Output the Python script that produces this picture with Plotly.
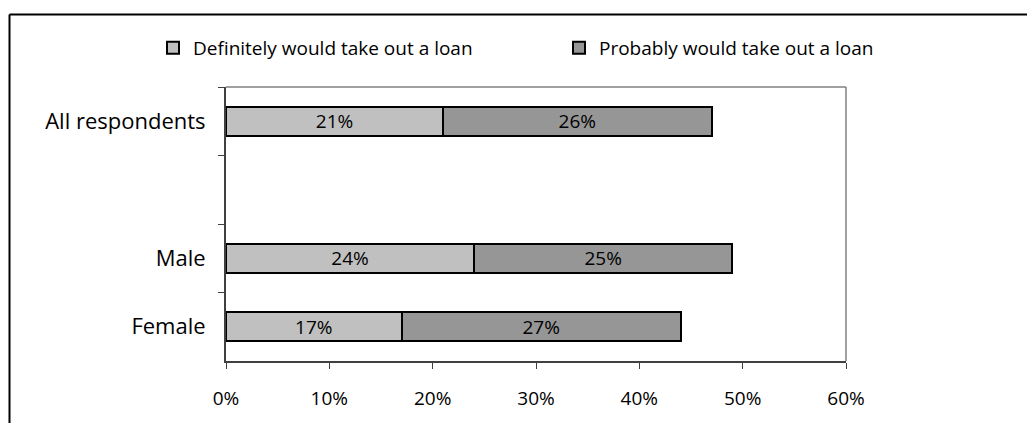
import plotly.graph_objects as go

# Survey groups (a blank spacer row separates the total from the gender split)
categories = ["All respondents", " ", "Male", "Female"]
definitely = [21, None, 24, 17]
probably = [26, None, 25, 27]
series_names = ["Definitely would take out a loan", "Probably would take out a loan"]
x_ticks = [0, 10, 20, 30, 40, 50, 60]

FONT = "Open Sans"
W, H = 1027, 423
L, R, T, B = 226, 846, 87, 361  # plot-area edges in pixels


def px_x(p):
    return (p - L) / (R - L)


def px_y(p):
    return (B - p) / (B - T)


def labels(vals):
    return [f"{v}%" if v is not None else "" for v in vals]


fig = go.Figure()
for name, vals, color in [
    (series_names[0], definitely, "#C0C0C0"),
    (series_names[1], probably, "#969696"),
]:
    fig.add_trace(go.Bar(
        y=categories, x=vals, name=name, orientation="h",
        marker=dict(color=color, line=dict(color="black", width=2)),
        text=labels(vals), textposition="inside", insidetextanchor="middle",
        textangle=0, textfont=dict(family=FONT, size=19, color="black"),
        constraintext="none", hoverinfo="skip",
    ))

fig.update_layout(
    width=W, height=H,
    margin=dict(l=L, r=W - R, t=T, b=H - B, autoexpand=False),
    barmode="stack", bargap=0.58,
    plot_bgcolor="white", paper_bgcolor="white",
    font=dict(family=FONT, color="black"),
    uniformtext=dict(minsize=19, mode="show"),
    legend=dict(
        orientation="h", traceorder="normal",
        x=px_x(153), y=px_y(48), xanchor="left", yanchor="middle",
        font=dict(family=FONT, size=19, color="black"),
        entrywidth=361, bgcolor="rgba(0,0,0,0)",
    ),
    xaxis=dict(
        range=[0, 60], tickvals=x_ticks, ticktext=[f"{v}%" for v in x_ticks],
        showgrid=False, zeroline=False, showline=True, linecolor="#404040", linewidth=2,
        ticks="outside", ticklen=6, tickcolor="#404040", tickwidth=1,
        ticklabelstandoff=13, automargin=False,
        tickfont=dict(family=FONT, size=19, color="black"),
    ),
    yaxis=dict(
        type="category", categoryorder="array", categoryarray=categories,
        range=[3.5, -0.5], showgrid=False, zeroline=False,
        showline=True, linecolor="#404040", linewidth=2,
        ticks="outside", ticklen=6, tickcolor="#404040", tickwidth=1,
        tickson="boundaries", ticklabelstandoff=14, automargin=False,
        tickfont=dict(family=FONT, size=22, color="black"),
    ),
    shapes=[
        # top and right edges of the plot area
        dict(type="line", xref="paper", yref="paper", x0=0, x1=1, y0=1, y1=1,
             line=dict(color="#808080", width=1.5)),
        dict(type="line", xref="paper", yref="paper", x0=1, x1=1, y0=0, y1=1,
             line=dict(color="#808080", width=1.5)),
        # chart frame
        dict(type="line", xref="paper", yref="paper", x0=px_x(9.5), x1=px_x(1100),
             y0=px_y(14.5), y1=px_y(14.5), line=dict(color="black", width=2)),
        dict(type="line", xref="paper", yref="paper", x0=px_x(9.5), x1=px_x(9.5),
             y0=px_y(14.5), y1=px_y(500), line=dict(color="black", width=2)),
    ],
)

fig.write_html("out.html")
